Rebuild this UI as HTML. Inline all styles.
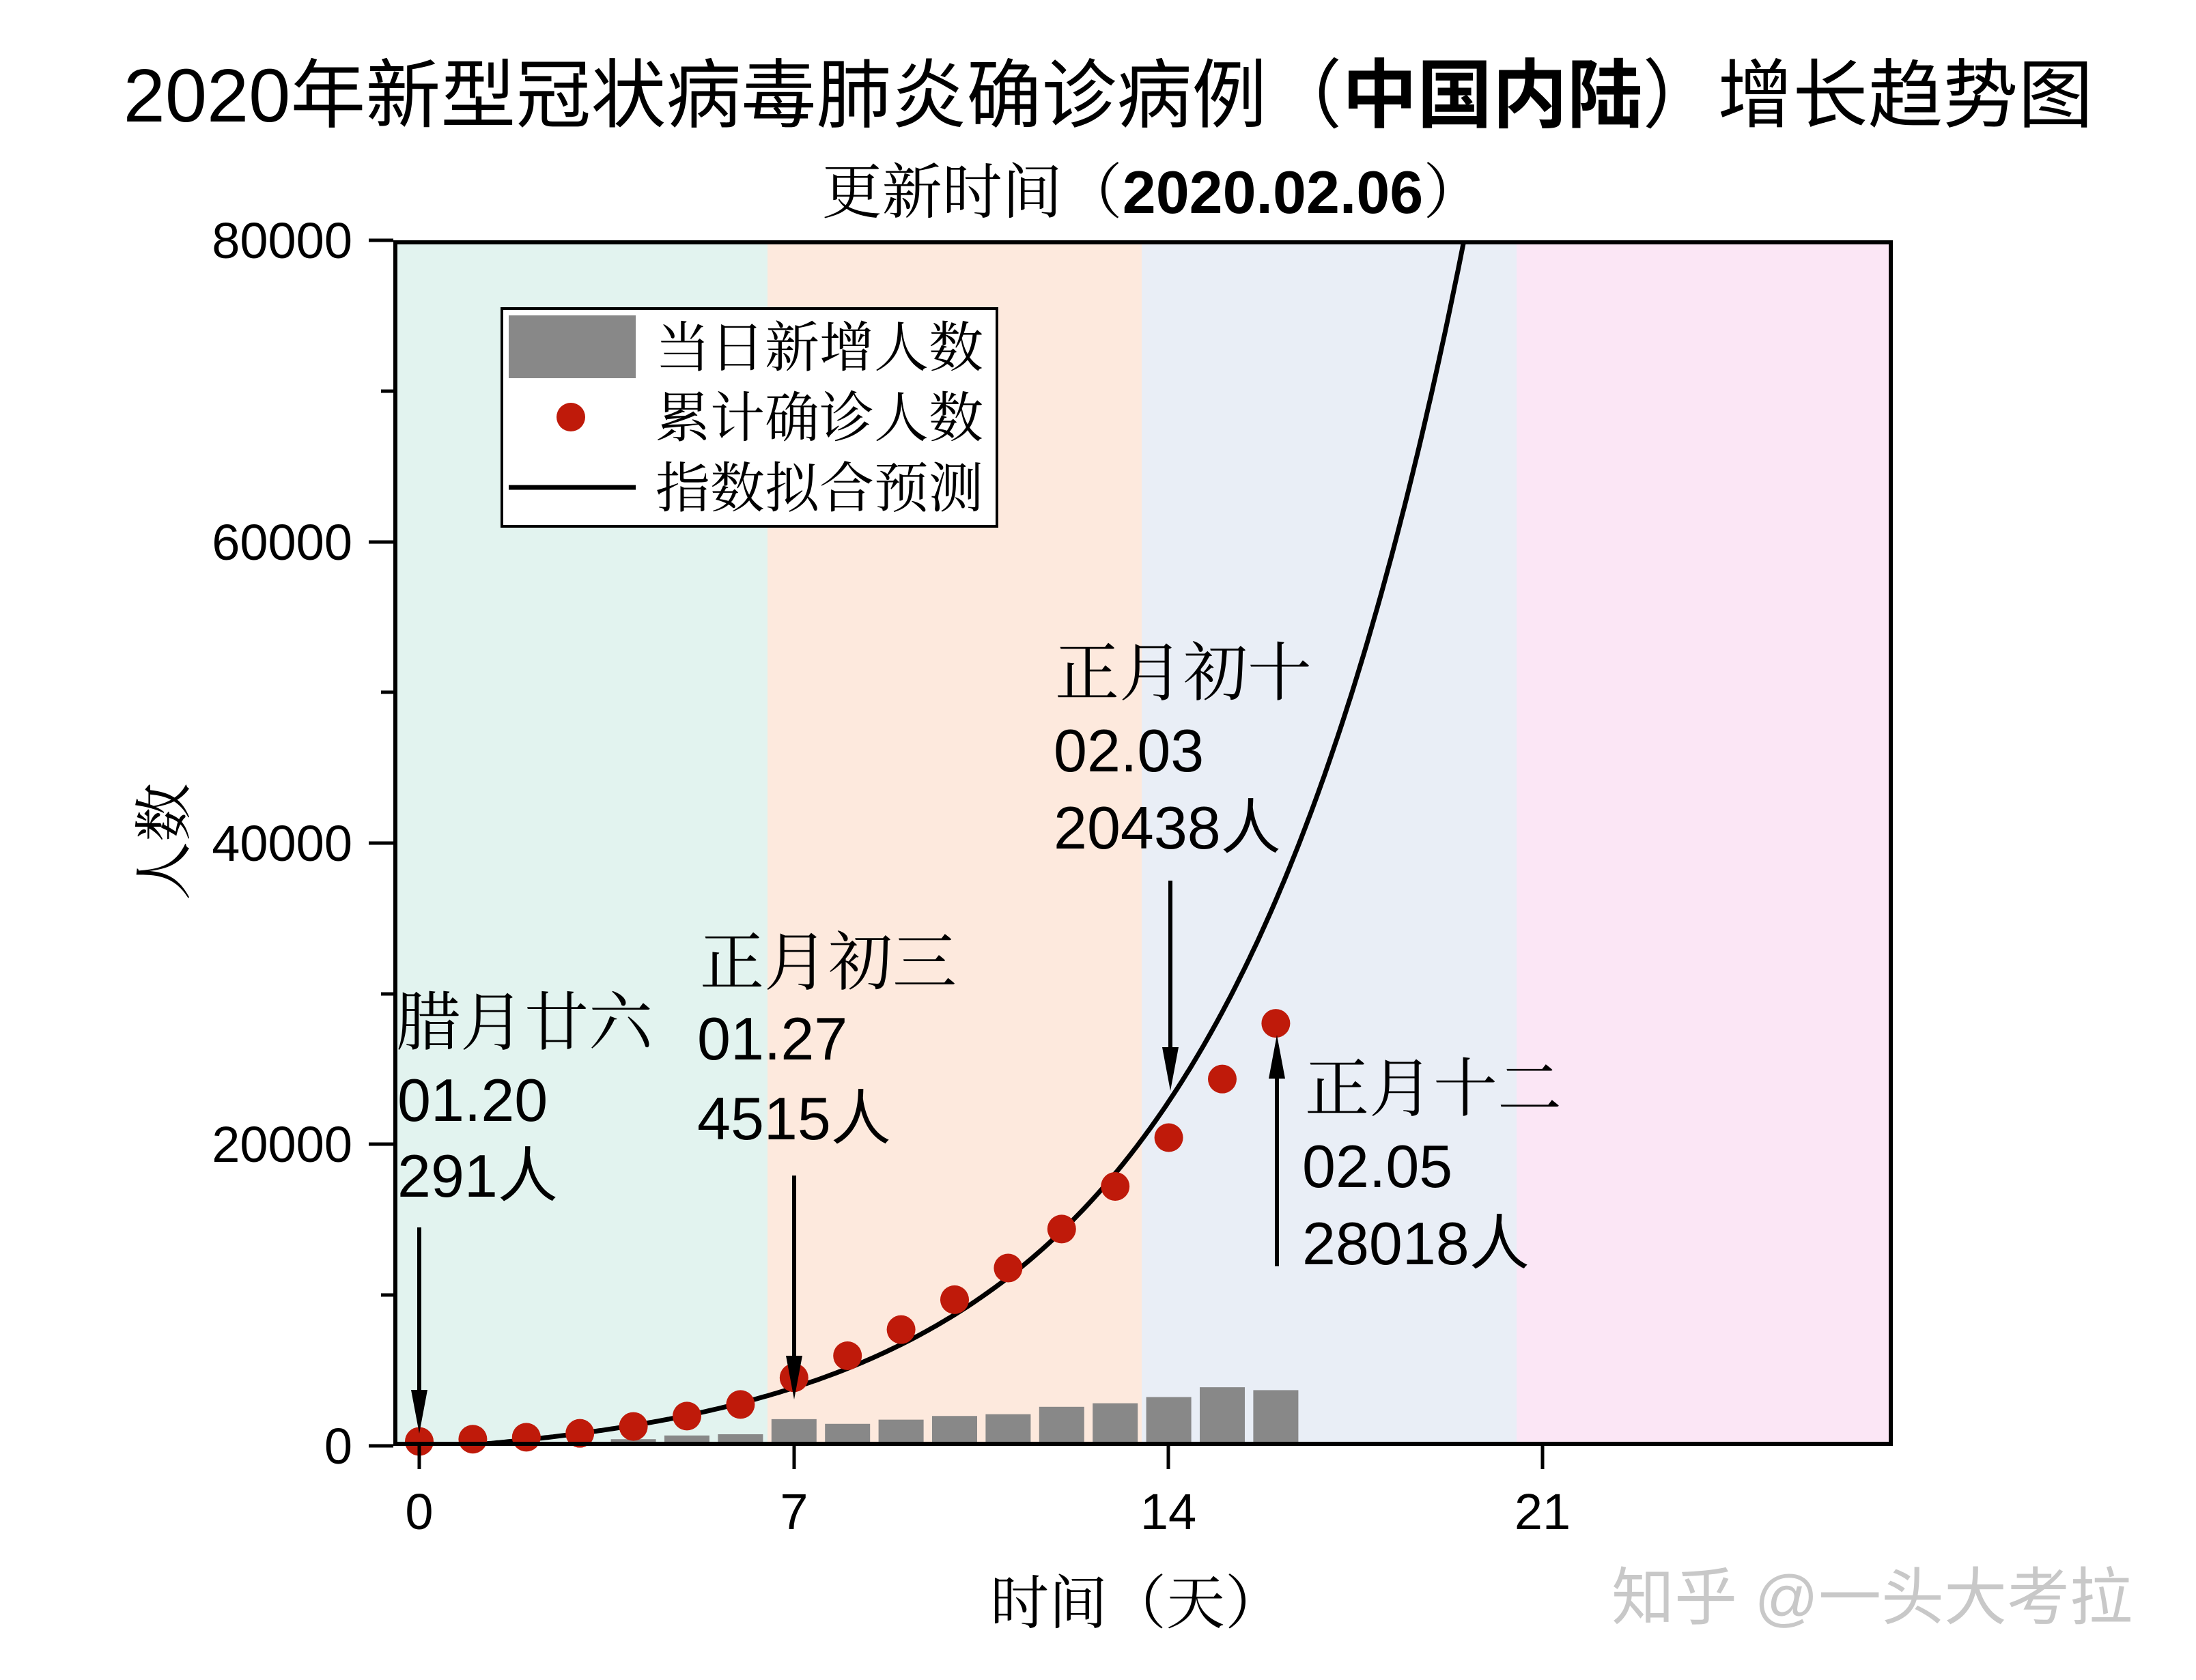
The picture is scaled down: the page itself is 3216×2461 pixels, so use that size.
<!DOCTYPE html>
<html><head><meta charset="utf-8"><style>
html,body{margin:0;padding:0;background:#fff}
svg{display:block}
.s{font-family:"Liberation Sans","Noto Sans CJK SC",sans-serif}
.r{font-family:"Liberation Sans","Noto Serif CJK SC",serif}
</style></head><body>
<svg id="c" width="3216" height="2461" viewBox="0 0 3216 2461" xmlns="http://www.w3.org/2000/svg">
<defs><clipPath id="pc"><rect x="576" y="352" width="2196" height="1766"/></clipPath></defs>
<rect x="576" y="352" width="548" height="1766" fill="#e2f3ef"/>
<rect x="1124" y="352" width="548" height="1766" fill="#fde9dd"/>
<rect x="1672" y="352" width="549" height="1766" fill="#e9eef6"/>
<rect x="2221" y="352" width="551" height="1766" fill="#fbe6f5"/>
<g id="bars" fill="#888"></g>
<path id="curve" d="" fill="none" stroke="#000" stroke-width="7" clip-path="url(#pc)"/>
<g id="dots" fill="#bf1a0a"></g>
<rect x="579" y="355" width="2190" height="1760" fill="none" stroke="#000" stroke-width="6"/>
<g stroke="#000" stroke-width="5">
<line x1="540" y1="352" x2="576" y2="352"/><line x1="540" y1="794" x2="576" y2="794"/><line x1="540" y1="1235" x2="576" y2="1235"/><line x1="540" y1="1676" x2="576" y2="1676"/><line x1="540" y1="2118" x2="576" y2="2118"/>
<line x1="558" y1="573" x2="576" y2="573"/><line x1="558" y1="1014" x2="576" y2="1014"/><line x1="558" y1="1456" x2="576" y2="1456"/><line x1="558" y1="1897" x2="576" y2="1897"/>
<line x1="614" y1="2118" x2="614" y2="2152"/><line x1="1163" y1="2118" x2="1163" y2="2152"/><line x1="1711" y1="2118" x2="1711" y2="2152"/><line x1="2259" y1="2118" x2="2259" y2="2152"/>
</g>
<g class="s" font-size="74" text-anchor="end" fill="#000">
<text x="516" y="378">80000</text><text x="516" y="820">60000</text><text x="516" y="1261">40000</text><text x="516" y="1702">20000</text><text x="516" y="2144">0</text>
</g>
<g class="s" font-size="74" text-anchor="middle" fill="#000">
<text x="614" y="2240">0</text><text x="1163" y="2240">7</text><text x="1711" y="2240">14</text><text x="2259" y="2240">21</text>
</g>
<text class="r" x="1665" y="2378" font-size="86" text-anchor="middle">时间（天）</text>
<text class="r" font-size="86" text-anchor="middle" transform="translate(270,1233) rotate(-90)">人数</text>
<text class="s" x="1623" y="178" font-size="110" text-anchor="middle">2020年新型冠状病毒肺炎确诊病例（<tspan font-weight="bold">中国内陆</tspan>）增长趋势图</text>
<text class="r" x="1688" y="312" font-size="88" text-anchor="middle">更新时间（<tspan class="s" font-weight="bold">2020.02.06</tspan>）</text>
<rect x="735" y="452" width="725" height="319" fill="#fff" stroke="#000" stroke-width="4"/>
<rect x="745" y="462" width="186" height="92" fill="#888"/>
<circle cx="836" cy="611" r="21" fill="#bf1a0a"/>
<line x1="745" y1="714" x2="931" y2="714" stroke="#000" stroke-width="7"/>
<g class="r" font-size="80" fill="#000">
<text x="960" y="537">当日新增人数</text><text x="960" y="640">累计确诊人数</text><text x="960" y="743">指数拟合预测</text>
</g>
<g class="r" font-size="94" fill="#000">
<text x="580" y="1530">腊月廿六</text><text x="1025" y="1442">正月初三</text><text x="1545" y="1018">正月初十</text><text x="1911" y="1627">正月十二</text>
</g>
<g class="s" font-size="88" fill="#000">
<text x="582" y="1642">01.20</text><text x="582" y="1753">291人</text>
<text x="1021" y="1552">01.27</text><text x="1021" y="1669">4515人</text>
<text x="1543" y="1130">02.03</text><text x="1543" y="1243">20438人</text>
<text x="1907" y="1739">02.05</text><text x="1907" y="1852">28018人</text>
</g>
<g stroke="#000" stroke-width="6">
<line x1="614" y1="1798" x2="614" y2="2050"/><line x1="1163" y1="1722" x2="1163" y2="2000"/><line x1="1714" y1="1290" x2="1714" y2="1548"/><line x1="1870" y1="1855" x2="1870" y2="1566"/>
</g>
<g fill="#000">
<polygon points="602,2036 626,2036 614,2100"/><polygon points="1151,1986 1175,1986 1163,2050"/><polygon points="1702,1534 1726,1534 1714,1598"/><polygon points="1858,1580 1882,1580 1870,1516"/>
</g>
<text class="s" x="2360" y="2372" font-size="92" fill="#c8c8c8">知乎 @一头大考拉</text>
</svg>
<script>
var px=function(x){return 614+78.4*x},py=function(v){return 2118-v*0.02209};
var cum=[291,440,571,830,1287,1975,2744,4515,5974,7711,9692,11791,14380,17205,20438,24324,28018];
var nw=[77,149,131,259,444,688,769,1771,1459,1737,1981,2099,2589,2825,3235,3887,3694];
var NS="http://www.w3.org/2000/svg",b=document.getElementById("bars"),d=document.getElementById("dots");
for(var i=0;i<17;i++){var r=document.createElementNS(NS,"rect");var h=nw[i]*0.02209;r.setAttribute("x",px(i)-33);r.setAttribute("y",2118-h);r.setAttribute("width",66);r.setAttribute("height",h);b.appendChild(r);
var c=document.createElementNS(NS,"circle");c.setAttribute("cx",px(i));c.setAttribute("cy",py(cum[i]));c.setAttribute("r",21);d.appendChild(c);}
var s="";for(var x=0.8;x<=20;x+=0.05){var v=1110*Math.exp(0.22*x)-1320;s+=(s?"L":"M")+px(x).toFixed(1)+","+py(v).toFixed(1);}
document.getElementById("curve").setAttribute("d",s);
</script>
</body></html>
